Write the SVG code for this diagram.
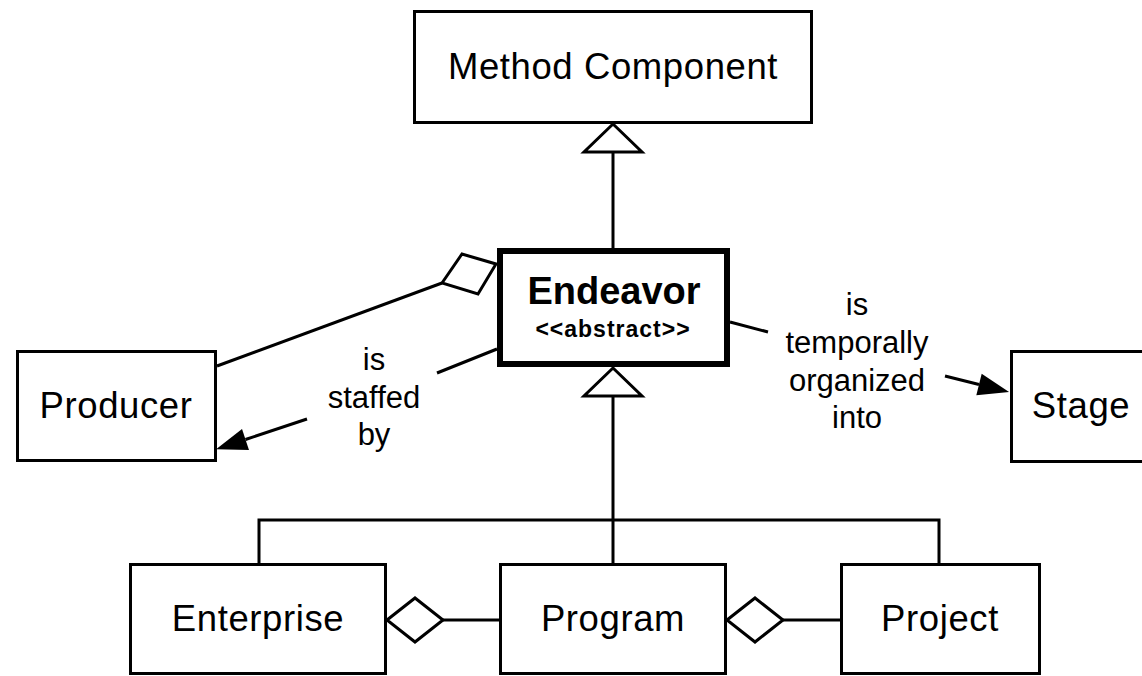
<svg xmlns="http://www.w3.org/2000/svg" width="1142" height="676" viewBox="0 0 1142 676">
<style>
.box{fill:#fff;stroke:#000;stroke-width:3}
.bold{fill:#fff;stroke:#000;stroke-width:6}
.ln{fill:none;stroke:#000;stroke-width:3}
.hollow{fill:#fff;stroke:#000;stroke-width:3;stroke-linejoin:miter}
text{font-family:"Liberation Sans",Arial,Helvetica,sans-serif;fill:#000;text-anchor:middle}
.nl{font-size:36.5px;letter-spacing:0.6px}
.el{font-size:31px}
</style>
<defs>
<marker id="arrow" markerUnits="userSpaceOnUse" markerWidth="32" markerHeight="24" refX="0" refY="11" orient="auto" overflow="visible">
<path d="M0,0 L31,11 L0,22 z" fill="#000"/>
</marker>
</defs>
<rect width="1142" height="676" fill="#fff"/>
<g id="connectors">
<line class="ln" x1="613" y1="152" x2="613" y2="248"/>
<polygon class="hollow" points="613,124 584,152 642,152"/>
<line class="ln" x1="613" y1="396" x2="613" y2="563"/>
<polyline class="ln" points="259,563 259,520 939,520 939,563"/>
<polygon class="hollow" points="613,368 584,396 642,396"/>
<line class="ln" x1="217" y1="366" x2="442" y2="283"/>
<polygon class="hollow" points="442,283 462,254 496,264 478,294"/>
<line class="ln" x1="497" y1="349" x2="437" y2="373"/>
<line class="ln" x1="307" y1="419" x2="245.5" y2="439.5" marker-end="url(#arrow)"/>
<line class="ln" x1="730" y1="322" x2="768" y2="332"/>
<line class="ln" x1="945" y1="376" x2="979" y2="384.5" marker-end="url(#arrow)"/>
<polygon class="hollow" points="387,620 415,598 443,620 415,642"/>
<line class="ln" x1="443" y1="620" x2="500" y2="620"/>
<polygon class="hollow" points="727,620 755,598 783,620 755,642"/>
<line class="ln" x1="783" y1="620" x2="841" y2="620"/>
<g id="label-staffed" class="el">
<text x="374" y="370">is</text>
<text x="374" y="408">staffed</text>
<text x="374" y="445">by</text>
</g>
<g id="label-temporally" class="el">
<text x="857" y="315">is</text>
<text x="857" y="353">temporally</text>
<text x="857" y="391">organized</text>
<text x="857" y="428">into</text>
</g>
</g>
<g id="method-component">
<rect class="box" x="414.5" y="11.5" width="397" height="111"/>
<text class="nl" x="613" y="79">Method Component</text>
</g>
<g id="endeavor">
<rect class="bold" x="500" y="251" width="227" height="113"/>
<text x="614" y="304" font-size="38" font-weight="bold">Endeavor</text>
<text x="613" y="337" font-size="23" font-weight="bold" letter-spacing="1">&lt;&lt;abstract&gt;&gt;</text>
</g>
<g id="producer">
<rect class="box" x="17.5" y="351.5" width="198" height="109"/>
<text class="nl" x="116" y="418">Producer</text>
</g>
<g id="stage">
<rect class="box" x="1011.5" y="351.5" width="150" height="110"/>
<text class="nl" x="1081" y="418">Stage</text>
</g>
<g id="enterprise">
<rect class="box" x="130.5" y="564.5" width="255" height="109"/>
<text class="nl" x="258" y="631">Enterprise</text>
</g>
<g id="program">
<rect class="box" x="500.5" y="564.5" width="225" height="109"/>
<text class="nl" x="613" y="631">Program</text>
</g>
<g id="project">
<rect class="box" x="841.5" y="564.5" width="198" height="109"/>
<text class="nl" x="940" y="631">Project</text>
</g>
</svg>
